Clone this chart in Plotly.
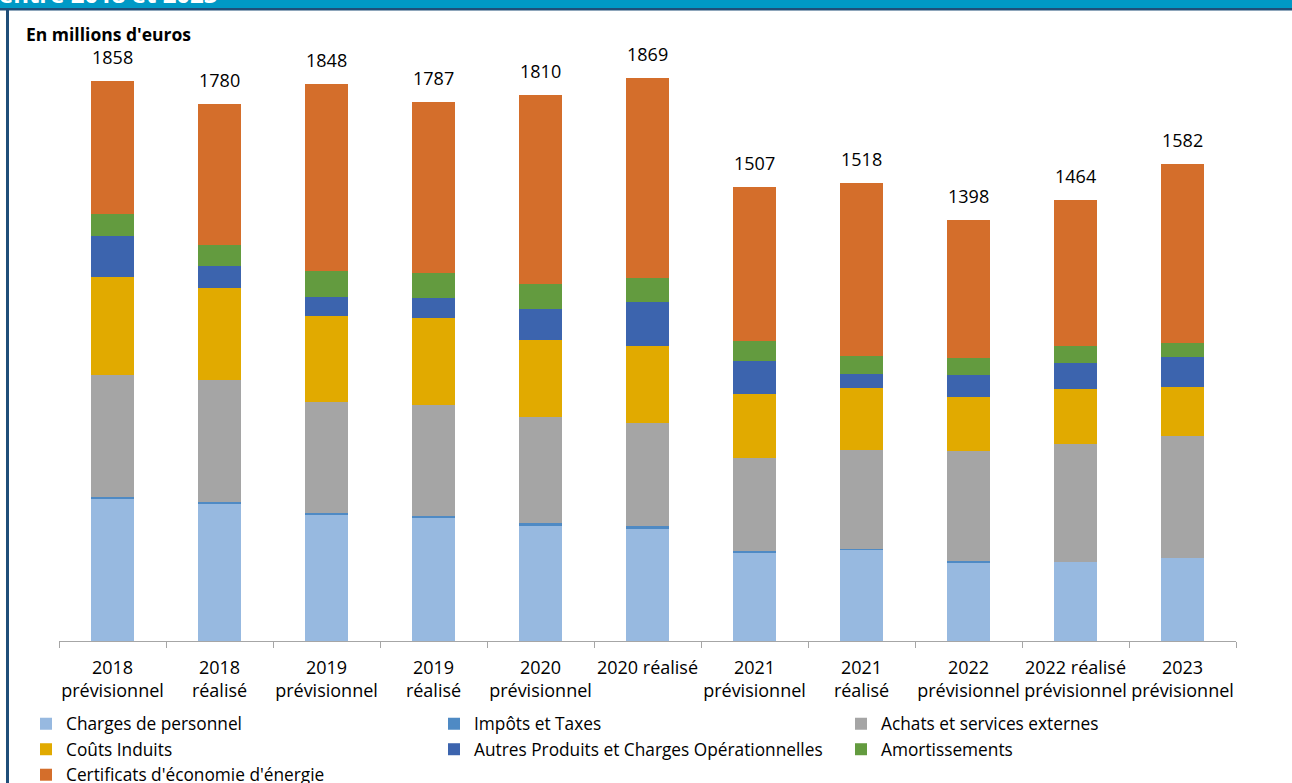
import plotly.graph_objects as go

categories = ["2018 prévisionnel", "2018 réalisé", "2019 prévisionnel", "2019 réalisé",
              "2020 prévisionnel", "2020 réalisé", "2021 prévisionnel", "2021 réalisé",
              "2022 prévisionnel", "2022 réalisé prévisionnel", "2023 prévisionnel"]
tick_labels = ["2018<br>prévisionnel", "2018<br>réalisé", "2019<br>prévisionnel", "2019<br>réalisé",
               "2020<br>prévisionnel", "2020 réalisé", "2021<br>prévisionnel", "2021<br>réalisé",
               "2022<br>prévisionnel", "2022 réalisé<br>prévisionnel", "2023<br>prévisionnel"]

charges_personnel = [470, 454, 418, 408, 383, 373, 295, 302, 262, 261, 274]
impots_taxes = [8, 8, 8, 7, 7, 7, 5, 3, 3, 0, 0]
achats_services = [404, 404, 366, 369, 353, 342, 308, 328, 364, 392, 407]
couts_induits = [324, 306, 286, 287, 256, 257, 212, 206, 179, 182, 161]
autres_produits = [138, 71, 64, 68, 101, 144, 108, 45, 73, 86, 100]
amortissements = [72, 71, 85, 81, 84, 82, 67, 60, 56, 56, 46]
certificats = [442, 466, 621, 567, 626, 664, 512, 574, 461, 487, 594]
totals = [1858, 1780, 1848, 1787, 1810, 1869, 1507, 1518, 1398, 1464, 1582]

# (name, values, colour, legend column)
series = [
    ("Charges de personnel", charges_personnel, "#97B9E0", "legend"),
    ("Impôts et Taxes", impots_taxes, "#4F8AC4", "legend2"),
    ("Achats et services externes", achats_services, "#A5A5A5", "legend3"),
    ("Coûts Induits", couts_induits, "#E1AA00", "legend"),
    ("Autres Produits et Charges Opérationnelles", autres_produits, "#3C64AE", "legend2"),
    ("Amortissements", amortissements, "#639B3F", "legend3"),
    ("Certificats d'économie d'énergie", certificats, "#D46E2B", "legend"),
]

W, H = 1292, 783
L, R, T, B = 59, 56, 38, 142
PW, PH = W - L - R, H - T - B
FONT = "Open Sans"


def px(xp):
    return (xp - L) / PW


def py(yp):
    return (H - B - yp) / PH


fig = go.Figure()
for name, vals, color, leg in series:
    fig.add_trace(go.Bar(x=categories, y=vals, name=name, marker_color=color,
                         marker_line_width=0, legend=leg))

for c, t in zip(categories, totals):
    fig.add_annotation(x=c, y=t, text=str(t), showarrow=False, yanchor="bottom",
                       yshift=10, font=dict(family=FONT, size=18, color="#000000"))

fig.add_annotation(xref="paper", yref="paper", x=px(24), y=py(34), xanchor="left",
                   yanchor="middle", text="<b>En millions d'euros</b>", showarrow=False,
                   font=dict(family=FONT, size=17.5, color="#000000"))

# header band (title partially visible at the top)
fig.add_shape(type="rect", xref="paper", yref="paper", x0=px(-5), x1=px(W + 5),
              y0=py(8), y1=py(-20), fillcolor="#0099C6", line_width=0, layer="below")
fig.add_shape(type="rect", xref="paper", yref="paper", x0=px(-5), x1=px(W + 5),
              y0=py(10.5), y1=py(8), fillcolor="#1F4E79", line_width=0, layer="below")
fig.add_shape(type="rect", xref="paper", yref="paper", x0=px(6), x1=px(9),
              y0=py(H + 5), y1=py(8), fillcolor="#1F4E79", line_width=0, layer="below")
fig.add_annotation(xref="paper", yref="paper", x=px(-3), y=py(-7), xanchor="left",
                   yanchor="middle", text="<b>entre 2018 et 2023</b>", showarrow=False,
                   font=dict(family=FONT, size=24, color="#FFFFFF"))

legend_common = dict(orientation="v", yanchor="top", xanchor="left", y=py(706),
                     traceorder="normal", bgcolor="rgba(0,0,0,0)", borderwidth=0,
                     font=dict(family=FONT, size=17.3, color="#000000"))

fig.update_layout(
    width=W, height=H,
    margin=dict(l=L, r=R, t=T, b=B, pad=0, autoexpand=False),
    barmode="stack", bargap=0.6,
    paper_bgcolor="white", plot_bgcolor="white",
    font=dict(family=FONT, size=18, color="#000000"),
    xaxis=dict(tickmode="array", tickvals=categories, ticktext=tick_labels,
               tickson="boundaries", ticks="outside", ticklen=6, tickcolor="#A6A6A6",
               showline=True, linecolor="#A6A6A6", linewidth=1, showgrid=False,
               ticklabelstandoff=10,
               tickfont=dict(family=FONT, size=18, color="#000000"), tickangle=0),
    yaxis=dict(visible=False, range=[0, 2000]),
    legend=dict(x=px(26), **legend_common),
    legend2=dict(x=px(434), **legend_common),
    legend3=dict(x=px(841), **legend_common),
    showlegend=True,
)

fig.write_html("out.html")
